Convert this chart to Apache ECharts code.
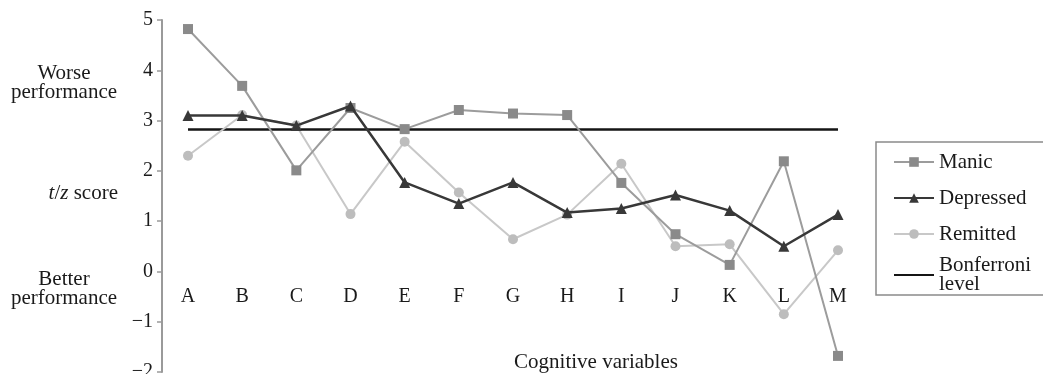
<!DOCTYPE html>
<html><head><meta charset="utf-8">
<script src="https://cdn.jsdelivr.net/npm/echarts@6/dist/echarts.min.js"></script>
<style>html,body{margin:0;padding:0;background:#fff}#c{width:1043px;height:374px}</style>
</head><body><div id="c"></div>
<script>
const categories = ['A','B','C','D','E','F','G','H','I','J','K','L','M'];
const manic     = [4.82, 3.69, 2.01, 3.25, 2.83, 3.21, 3.14, 3.11, 1.76, 0.74, 0.13, 2.19, -1.68];
const depressed = [3.10, 3.10, 2.90, 3.29, 1.77, 1.35, 1.77, 1.17, 1.25, 1.52, 1.21, 0.50, 1.13];
const remitted  = [2.30, 3.11, 2.90, 1.14, 2.58, 1.57, 0.64, 1.13, 2.14, 0.50, 0.54, -0.85, 0.42];
const bonferroni = [2.82, 2.82, 2.82, 2.82, 2.82, 2.82, 2.82, 2.82, 2.82, 2.82, 2.82, 2.82, 2.82];
const yTicks = { min: -2, max: 5, interval: 1 };

const serif = '"Liberation Serif", "DejaVu Serif", serif';
const gridTop = 20, gridBottom = 2, H = 374;
const zeroOffset = -((H - gridTop - gridBottom) * (0 - yTicks.min) / (yTicks.max - yTicks.min));
const chart = echarts.init(document.getElementById('c'), null, {renderer:'canvas'});
chart.setOption({
  backgroundColor: '#fff',
  animation: false,
  grid: { left: 188, right: 205, top: gridTop, bottom: gridBottom, containLabel: false, outerBoundsMode: 'none' },
  xAxis: {
    type: 'category', data: categories, boundaryGap: false, position: 'bottom',
    offset: zeroOffset,
    axisLine: { show: false, onZero: false },
    axisTick: { show: false },
    axisLabel: { color: '#1a1a1a', fontFamily: serif, fontSize: 20, margin: 15 },
    splitLine: { show: false }
  },
  yAxis: {
    type: 'value', min: yTicks.min, max: yTicks.max, interval: yTicks.interval,
    offset: 26,
    axisLine: { show: true, lineStyle: { color: '#9a9a9a', width: 2 } },
    axisTick: { show: true, length: 5, lineStyle: { color: '#9a9a9a', width: 1.5 } },
    axisLabel: { color: '#1a1a1a', fontFamily: serif, fontSize: 20, margin: 9,
      formatter: v => v < 0 ? '\u2212' + Math.abs(v) : String(v) },
    splitLine: { show: false }
  },
  legend: {
    orient: 'vertical', left: 876, top: 142,
    padding: [5, 40, 0, 17], itemGap: 6, itemWidth: 40, itemHeight: 12,
    borderColor: '#8a8a8a', borderWidth: 1.5,
    textStyle: { fontFamily: serif, fontSize: 21, color: '#1a1a1a', lineHeight: 30 },
    formatter: n => n === 'Bonferroni level' ? 'Bonferroni\nlevel' : n,
    data: ['Manic', 'Depressed', 'Remitted',
      { name: 'Bonferroni level', itemStyle: { opacity: 0 }, textStyle: { lineHeight: 19 } }]
  },
  series: [
    { name: 'Bonferroni level', type: 'line', data: bonferroni, symbol: 'none', z: 1,
      lineStyle: { color: '#151515', width: 2.5 }, itemStyle: { color: '#151515' } },
    { name: 'Remitted', type: 'line', data: remitted, symbol: 'circle', symbolSize: 10, z: 2,
      lineStyle: { color: '#c8c8c8', width: 2 }, itemStyle: { color: '#bdbdbd' } },
    { name: 'Manic', type: 'line', data: manic, symbol: 'rect', symbolSize: 10, z: 3,
      lineStyle: { color: '#9c9c9c', width: 2 }, itemStyle: { color: '#8a8a8a' } },
    { name: 'Depressed', type: 'line', data: depressed, symbol: 'triangle', symbolSize: 11, z: 4,
      lineStyle: { color: '#383838', width: 2.5 }, itemStyle: { color: '#383838' } }
  ],
  graphic: [
    { type: 'text', x: 64, y: 83, style: { text: 'Worse\nperformance', font: '21px ' + serif,
      fill: '#1a1a1a', align: 'center', verticalAlign: 'middle', lineHeight: 19 } },
    { type: 'text', x: 118, y: 193, style: {
      text: '{i|t}/{i|z} score', rich: { i: { fontStyle: 'italic', fontFamily: serif, fontSize: 21 } },
      fontFamily: serif, fontSize: 21, fill: '#1a1a1a', align: 'right', verticalAlign: 'middle' } },
    { type: 'text', x: 64, y: 289, style: { text: 'Better\nperformance', font: '21px ' + serif,
      fill: '#1a1a1a', align: 'center', verticalAlign: 'middle', lineHeight: 19 } },
    { type: 'text', x: 596, y: 362, style: { text: 'Cognitive variables', font: '21px ' + serif,
      fill: '#1a1a1a', align: 'center', verticalAlign: 'middle' } }
  ]
});
</script></body></html>
